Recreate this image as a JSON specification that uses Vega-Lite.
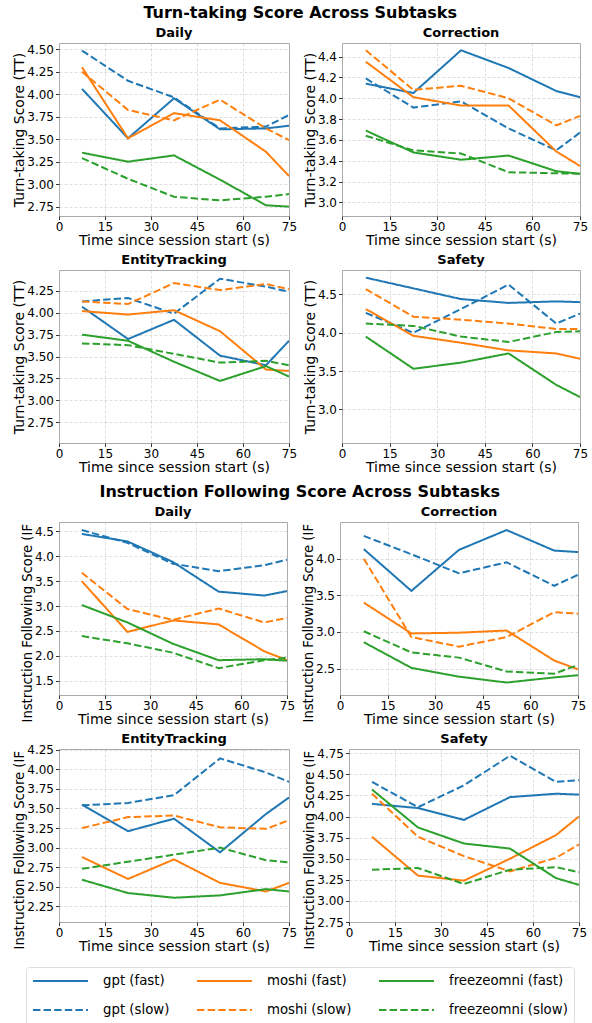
{
"$schema": "https://vega.github.io/schema/vega-lite/v6.json",
"background": "white",
"padding": {"left": 12, "right": 4, "top": 4, "bottom": 0},
"data": {"values": [
{"m":"TT","k":"Daily","s":"gpt (fast)","t":7.5,"v":4.06},{"m":"TT","k":"Daily","s":"gpt (fast)","t":22.5,"v":3.51},{"m":"TT","k":"Daily","s":"gpt (fast)","t":37.5,"v":3.955},{"m":"TT","k":"Daily","s":"gpt (fast)","t":52.5,"v":3.61},{"m":"TT","k":"Daily","s":"gpt (fast)","t":67.5,"v":3.62},{"m":"TT","k":"Daily","s":"gpt (fast)","t":75,"v":3.65},
{"m":"TT","k":"Daily","s":"gpt (slow)","t":7.5,"v":4.485},{"m":"TT","k":"Daily","s":"gpt (slow)","t":22.5,"v":4.15},{"m":"TT","k":"Daily","s":"gpt (slow)","t":37.5,"v":3.965},{"m":"TT","k":"Daily","s":"gpt (slow)","t":52.5,"v":3.62},{"m":"TT","k":"Daily","s":"gpt (slow)","t":67.5,"v":3.64},{"m":"TT","k":"Daily","s":"gpt (slow)","t":75,"v":3.77},
{"m":"TT","k":"Daily","s":"moshi (fast)","t":7.5,"v":4.30},{"m":"TT","k":"Daily","s":"moshi (fast)","t":22.5,"v":3.51},{"m":"TT","k":"Daily","s":"moshi (fast)","t":37.5,"v":3.79},{"m":"TT","k":"Daily","s":"moshi (fast)","t":52.5,"v":3.71},{"m":"TT","k":"Daily","s":"moshi (fast)","t":67.5,"v":3.36},{"m":"TT","k":"Daily","s":"moshi (fast)","t":75,"v":3.09},
{"m":"TT","k":"Daily","s":"moshi (slow)","t":7.5,"v":4.25},{"m":"TT","k":"Daily","s":"moshi (slow)","t":22.5,"v":3.825},{"m":"TT","k":"Daily","s":"moshi (slow)","t":37.5,"v":3.71},{"m":"TT","k":"Daily","s":"moshi (slow)","t":52.5,"v":3.94},{"m":"TT","k":"Daily","s":"moshi (slow)","t":67.5,"v":3.62},{"m":"TT","k":"Daily","s":"moshi (slow)","t":75,"v":3.49},
{"m":"TT","k":"Daily","s":"freezeomni (fast)","t":7.5,"v":3.35},{"m":"TT","k":"Daily","s":"freezeomni (fast)","t":22.5,"v":3.25},{"m":"TT","k":"Daily","s":"freezeomni (fast)","t":37.5,"v":3.32},{"m":"TT","k":"Daily","s":"freezeomni (fast)","t":52.5,"v":3.05},{"m":"TT","k":"Daily","s":"freezeomni (fast)","t":67.5,"v":2.765},{"m":"TT","k":"Daily","s":"freezeomni (fast)","t":75,"v":2.75},
{"m":"TT","k":"Daily","s":"freezeomni (slow)","t":7.5,"v":3.29},{"m":"TT","k":"Daily","s":"freezeomni (slow)","t":22.5,"v":3.06},{"m":"TT","k":"Daily","s":"freezeomni (slow)","t":37.5,"v":2.86},{"m":"TT","k":"Daily","s":"freezeomni (slow)","t":52.5,"v":2.82},{"m":"TT","k":"Daily","s":"freezeomni (slow)","t":67.5,"v":2.86},{"m":"TT","k":"Daily","s":"freezeomni (slow)","t":75,"v":2.89},
{"m":"TT","k":"Correction","s":"gpt (fast)","t":7.5,"v":4.14},{"m":"TT","k":"Correction","s":"gpt (fast)","t":22.5,"v":4.05},{"m":"TT","k":"Correction","s":"gpt (fast)","t":37.5,"v":4.46},{"m":"TT","k":"Correction","s":"gpt (fast)","t":52.5,"v":4.29},{"m":"TT","k":"Correction","s":"gpt (fast)","t":67.5,"v":4.07},{"m":"TT","k":"Correction","s":"gpt (fast)","t":75,"v":4.01},
{"m":"TT","k":"Correction","s":"gpt (slow)","t":7.5,"v":4.19},{"m":"TT","k":"Correction","s":"gpt (slow)","t":22.5,"v":3.91},{"m":"TT","k":"Correction","s":"gpt (slow)","t":37.5,"v":3.97},{"m":"TT","k":"Correction","s":"gpt (slow)","t":52.5,"v":3.71},{"m":"TT","k":"Correction","s":"gpt (slow)","t":67.5,"v":3.50},{"m":"TT","k":"Correction","s":"gpt (slow)","t":75,"v":3.67},
{"m":"TT","k":"Correction","s":"moshi (fast)","t":7.5,"v":4.35},{"m":"TT","k":"Correction","s":"moshi (fast)","t":22.5,"v":4.01},{"m":"TT","k":"Correction","s":"moshi (fast)","t":37.5,"v":3.93},{"m":"TT","k":"Correction","s":"moshi (fast)","t":52.5,"v":3.93},{"m":"TT","k":"Correction","s":"moshi (fast)","t":67.5,"v":3.49},{"m":"TT","k":"Correction","s":"moshi (fast)","t":75,"v":3.35},
{"m":"TT","k":"Correction","s":"moshi (slow)","t":7.5,"v":4.46},{"m":"TT","k":"Correction","s":"moshi (slow)","t":22.5,"v":4.08},{"m":"TT","k":"Correction","s":"moshi (slow)","t":37.5,"v":4.12},{"m":"TT","k":"Correction","s":"moshi (slow)","t":52.5,"v":4.00},{"m":"TT","k":"Correction","s":"moshi (slow)","t":67.5,"v":3.74},{"m":"TT","k":"Correction","s":"moshi (slow)","t":75,"v":3.83},
{"m":"TT","k":"Correction","s":"freezeomni (fast)","t":7.5,"v":3.69},{"m":"TT","k":"Correction","s":"freezeomni (fast)","t":22.5,"v":3.48},{"m":"TT","k":"Correction","s":"freezeomni (fast)","t":37.5,"v":3.41},{"m":"TT","k":"Correction","s":"freezeomni (fast)","t":52.5,"v":3.45},{"m":"TT","k":"Correction","s":"freezeomni (fast)","t":67.5,"v":3.30},{"m":"TT","k":"Correction","s":"freezeomni (fast)","t":75,"v":3.275},
{"m":"TT","k":"Correction","s":"freezeomni (slow)","t":7.5,"v":3.64},{"m":"TT","k":"Correction","s":"freezeomni (slow)","t":22.5,"v":3.50},{"m":"TT","k":"Correction","s":"freezeomni (slow)","t":37.5,"v":3.47},{"m":"TT","k":"Correction","s":"freezeomni (slow)","t":52.5,"v":3.29},{"m":"TT","k":"Correction","s":"freezeomni (slow)","t":67.5,"v":3.28},{"m":"TT","k":"Correction","s":"freezeomni (slow)","t":75,"v":3.275},
{"m":"TT","k":"EntityTracking","s":"gpt (fast)","t":7.5,"v":4.07},{"m":"TT","k":"EntityTracking","s":"gpt (fast)","t":22.5,"v":3.70},{"m":"TT","k":"EntityTracking","s":"gpt (fast)","t":37.5,"v":3.92},{"m":"TT","k":"EntityTracking","s":"gpt (fast)","t":52.5,"v":3.51},{"m":"TT","k":"EntityTracking","s":"gpt (fast)","t":67.5,"v":3.40},{"m":"TT","k":"EntityTracking","s":"gpt (fast)","t":75,"v":3.68},
{"m":"TT","k":"EntityTracking","s":"gpt (slow)","t":7.5,"v":4.13},{"m":"TT","k":"EntityTracking","s":"gpt (slow)","t":22.5,"v":4.17},{"m":"TT","k":"EntityTracking","s":"gpt (slow)","t":37.5,"v":3.99},{"m":"TT","k":"EntityTracking","s":"gpt (slow)","t":52.5,"v":4.39},{"m":"TT","k":"EntityTracking","s":"gpt (slow)","t":67.5,"v":4.30},{"m":"TT","k":"EntityTracking","s":"gpt (slow)","t":75,"v":4.24},
{"m":"TT","k":"EntityTracking","s":"moshi (fast)","t":7.5,"v":4.02},{"m":"TT","k":"EntityTracking","s":"moshi (fast)","t":22.5,"v":3.98},{"m":"TT","k":"EntityTracking","s":"moshi (fast)","t":37.5,"v":4.03},{"m":"TT","k":"EntityTracking","s":"moshi (fast)","t":52.5,"v":3.79},{"m":"TT","k":"EntityTracking","s":"moshi (fast)","t":67.5,"v":3.35},{"m":"TT","k":"EntityTracking","s":"moshi (fast)","t":75,"v":3.335},
{"m":"TT","k":"EntityTracking","s":"moshi (slow)","t":7.5,"v":4.13},{"m":"TT","k":"EntityTracking","s":"moshi (slow)","t":22.5,"v":4.10},{"m":"TT","k":"EntityTracking","s":"moshi (slow)","t":37.5,"v":4.34},{"m":"TT","k":"EntityTracking","s":"moshi (slow)","t":52.5,"v":4.26},{"m":"TT","k":"EntityTracking","s":"moshi (slow)","t":67.5,"v":4.33},{"m":"TT","k":"EntityTracking","s":"moshi (slow)","t":75,"v":4.27},
{"m":"TT","k":"EntityTracking","s":"freezeomni (fast)","t":7.5,"v":3.75},{"m":"TT","k":"EntityTracking","s":"freezeomni (fast)","t":22.5,"v":3.68},{"m":"TT","k":"EntityTracking","s":"freezeomni (fast)","t":37.5,"v":3.44},{"m":"TT","k":"EntityTracking","s":"freezeomni (fast)","t":52.5,"v":3.22},{"m":"TT","k":"EntityTracking","s":"freezeomni (fast)","t":67.5,"v":3.39},{"m":"TT","k":"EntityTracking","s":"freezeomni (fast)","t":75,"v":3.27},
{"m":"TT","k":"EntityTracking","s":"freezeomni (slow)","t":7.5,"v":3.65},{"m":"TT","k":"EntityTracking","s":"freezeomni (slow)","t":22.5,"v":3.63},{"m":"TT","k":"EntityTracking","s":"freezeomni (slow)","t":37.5,"v":3.53},{"m":"TT","k":"EntityTracking","s":"freezeomni (slow)","t":52.5,"v":3.43},{"m":"TT","k":"EntityTracking","s":"freezeomni (slow)","t":67.5,"v":3.45},{"m":"TT","k":"EntityTracking","s":"freezeomni (slow)","t":75,"v":3.40},
{"m":"TT","k":"Safety","s":"gpt (fast)","t":7.5,"v":4.72},{"m":"TT","k":"Safety","s":"gpt (fast)","t":22.5,"v":4.58},{"m":"TT","k":"Safety","s":"gpt (fast)","t":37.5,"v":4.44},{"m":"TT","k":"Safety","s":"gpt (fast)","t":52.5,"v":4.39},{"m":"TT","k":"Safety","s":"gpt (fast)","t":67.5,"v":4.41},{"m":"TT","k":"Safety","s":"gpt (fast)","t":75,"v":4.40},
{"m":"TT","k":"Safety","s":"gpt (slow)","t":7.5,"v":4.26},{"m":"TT","k":"Safety","s":"gpt (slow)","t":22.5,"v":4.00},{"m":"TT","k":"Safety","s":"gpt (slow)","t":37.5,"v":4.31},{"m":"TT","k":"Safety","s":"gpt (slow)","t":52.5,"v":4.63},{"m":"TT","k":"Safety","s":"gpt (slow)","t":67.5,"v":4.12},{"m":"TT","k":"Safety","s":"gpt (slow)","t":75,"v":4.25},
{"m":"TT","k":"Safety","s":"moshi (fast)","t":7.5,"v":4.31},{"m":"TT","k":"Safety","s":"moshi (fast)","t":22.5,"v":3.96},{"m":"TT","k":"Safety","s":"moshi (fast)","t":37.5,"v":3.87},{"m":"TT","k":"Safety","s":"moshi (fast)","t":52.5,"v":3.77},{"m":"TT","k":"Safety","s":"moshi (fast)","t":67.5,"v":3.73},{"m":"TT","k":"Safety","s":"moshi (fast)","t":75,"v":3.66},
{"m":"TT","k":"Safety","s":"moshi (slow)","t":7.5,"v":4.57},{"m":"TT","k":"Safety","s":"moshi (slow)","t":22.5,"v":4.21},{"m":"TT","k":"Safety","s":"moshi (slow)","t":37.5,"v":4.17},{"m":"TT","k":"Safety","s":"moshi (slow)","t":52.5,"v":4.12},{"m":"TT","k":"Safety","s":"moshi (slow)","t":67.5,"v":4.05},{"m":"TT","k":"Safety","s":"moshi (slow)","t":75,"v":4.05},
{"m":"TT","k":"Safety","s":"freezeomni (fast)","t":7.5,"v":3.95},{"m":"TT","k":"Safety","s":"freezeomni (fast)","t":22.5,"v":3.53},{"m":"TT","k":"Safety","s":"freezeomni (fast)","t":37.5,"v":3.61},{"m":"TT","k":"Safety","s":"freezeomni (fast)","t":52.5,"v":3.73},{"m":"TT","k":"Safety","s":"freezeomni (fast)","t":67.5,"v":3.32},{"m":"TT","k":"Safety","s":"freezeomni (fast)","t":75,"v":3.16},
{"m":"TT","k":"Safety","s":"freezeomni (slow)","t":7.5,"v":4.12},{"m":"TT","k":"Safety","s":"freezeomni (slow)","t":22.5,"v":4.09},{"m":"TT","k":"Safety","s":"freezeomni (slow)","t":37.5,"v":3.95},{"m":"TT","k":"Safety","s":"freezeomni (slow)","t":52.5,"v":3.88},{"m":"TT","k":"Safety","s":"freezeomni (slow)","t":67.5,"v":4.01},{"m":"TT","k":"Safety","s":"freezeomni (slow)","t":75,"v":4.02},
{"m":"IF","k":"Daily","s":"gpt (fast)","t":7.5,"v":4.45},{"m":"IF","k":"Daily","s":"gpt (fast)","t":22.5,"v":4.30},{"m":"IF","k":"Daily","s":"gpt (fast)","t":37.5,"v":3.885},{"m":"IF","k":"Daily","s":"gpt (fast)","t":52.5,"v":3.29},{"m":"IF","k":"Daily","s":"gpt (fast)","t":67.5,"v":3.21},{"m":"IF","k":"Daily","s":"gpt (fast)","t":75,"v":3.30},
{"m":"IF","k":"Daily","s":"gpt (slow)","t":7.5,"v":4.53},{"m":"IF","k":"Daily","s":"gpt (slow)","t":22.5,"v":4.27},{"m":"IF","k":"Daily","s":"gpt (slow)","t":37.5,"v":3.85},{"m":"IF","k":"Daily","s":"gpt (slow)","t":52.5,"v":3.70},{"m":"IF","k":"Daily","s":"gpt (slow)","t":67.5,"v":3.82},{"m":"IF","k":"Daily","s":"gpt (slow)","t":75,"v":3.93},
{"m":"IF","k":"Daily","s":"moshi (fast)","t":7.5,"v":3.50},{"m":"IF","k":"Daily","s":"moshi (fast)","t":22.5,"v":2.48},{"m":"IF","k":"Daily","s":"moshi (fast)","t":37.5,"v":2.71},{"m":"IF","k":"Daily","s":"moshi (fast)","t":52.5,"v":2.63},{"m":"IF","k":"Daily","s":"moshi (fast)","t":67.5,"v":2.09},{"m":"IF","k":"Daily","s":"moshi (fast)","t":75,"v":1.91},
{"m":"IF","k":"Daily","s":"moshi (slow)","t":7.5,"v":3.67},{"m":"IF","k":"Daily","s":"moshi (slow)","t":22.5,"v":2.94},{"m":"IF","k":"Daily","s":"moshi (slow)","t":37.5,"v":2.72},{"m":"IF","k":"Daily","s":"moshi (slow)","t":52.5,"v":2.95},{"m":"IF","k":"Daily","s":"moshi (slow)","t":67.5,"v":2.67},{"m":"IF","k":"Daily","s":"moshi (slow)","t":75,"v":2.76},
{"m":"IF","k":"Daily","s":"freezeomni (fast)","t":7.5,"v":3.02},{"m":"IF","k":"Daily","s":"freezeomni (fast)","t":22.5,"v":2.67},{"m":"IF","k":"Daily","s":"freezeomni (fast)","t":37.5,"v":2.24},{"m":"IF","k":"Daily","s":"freezeomni (fast)","t":52.5,"v":1.91},{"m":"IF","k":"Daily","s":"freezeomni (fast)","t":67.5,"v":1.93},{"m":"IF","k":"Daily","s":"freezeomni (fast)","t":75,"v":1.90},
{"m":"IF","k":"Daily","s":"freezeomni (slow)","t":7.5,"v":2.395},{"m":"IF","k":"Daily","s":"freezeomni (slow)","t":22.5,"v":2.25},{"m":"IF","k":"Daily","s":"freezeomni (slow)","t":37.5,"v":2.06},{"m":"IF","k":"Daily","s":"freezeomni (slow)","t":52.5,"v":1.75},{"m":"IF","k":"Daily","s":"freezeomni (slow)","t":67.5,"v":1.91},{"m":"IF","k":"Daily","s":"freezeomni (slow)","t":75,"v":1.96},
{"m":"IF","k":"Correction","s":"gpt (fast)","t":7.5,"v":4.13},{"m":"IF","k":"Correction","s":"gpt (fast)","t":22.5,"v":3.56},{"m":"IF","k":"Correction","s":"gpt (fast)","t":37.5,"v":4.12},{"m":"IF","k":"Correction","s":"gpt (fast)","t":52.5,"v":4.39},{"m":"IF","k":"Correction","s":"gpt (fast)","t":67.5,"v":4.11},{"m":"IF","k":"Correction","s":"gpt (fast)","t":75,"v":4.09},
{"m":"IF","k":"Correction","s":"gpt (slow)","t":7.5,"v":4.31},{"m":"IF","k":"Correction","s":"gpt (slow)","t":22.5,"v":4.06},{"m":"IF","k":"Correction","s":"gpt (slow)","t":37.5,"v":3.80},{"m":"IF","k":"Correction","s":"gpt (slow)","t":52.5,"v":3.95},{"m":"IF","k":"Correction","s":"gpt (slow)","t":67.5,"v":3.63},{"m":"IF","k":"Correction","s":"gpt (slow)","t":75,"v":3.78},
{"m":"IF","k":"Correction","s":"moshi (fast)","t":7.5,"v":3.40},{"m":"IF","k":"Correction","s":"moshi (fast)","t":22.5,"v":2.98},{"m":"IF","k":"Correction","s":"moshi (fast)","t":37.5,"v":2.99},{"m":"IF","k":"Correction","s":"moshi (fast)","t":52.5,"v":3.02},{"m":"IF","k":"Correction","s":"moshi (fast)","t":67.5,"v":2.61},{"m":"IF","k":"Correction","s":"moshi (fast)","t":75,"v":2.49},
{"m":"IF","k":"Correction","s":"moshi (slow)","t":7.5,"v":4.00},{"m":"IF","k":"Correction","s":"moshi (slow)","t":22.5,"v":2.93},{"m":"IF","k":"Correction","s":"moshi (slow)","t":37.5,"v":2.80},{"m":"IF","k":"Correction","s":"moshi (slow)","t":52.5,"v":2.93},{"m":"IF","k":"Correction","s":"moshi (slow)","t":67.5,"v":3.27},{"m":"IF","k":"Correction","s":"moshi (slow)","t":75,"v":3.25},
{"m":"IF","k":"Correction","s":"freezeomni (fast)","t":7.5,"v":2.86},{"m":"IF","k":"Correction","s":"freezeomni (fast)","t":22.5,"v":2.51},{"m":"IF","k":"Correction","s":"freezeomni (fast)","t":37.5,"v":2.39},{"m":"IF","k":"Correction","s":"freezeomni (fast)","t":52.5,"v":2.31},{"m":"IF","k":"Correction","s":"freezeomni (fast)","t":67.5,"v":2.38},{"m":"IF","k":"Correction","s":"freezeomni (fast)","t":75,"v":2.41},
{"m":"IF","k":"Correction","s":"freezeomni (slow)","t":7.5,"v":3.01},{"m":"IF","k":"Correction","s":"freezeomni (slow)","t":22.5,"v":2.72},{"m":"IF","k":"Correction","s":"freezeomni (slow)","t":37.5,"v":2.65},{"m":"IF","k":"Correction","s":"freezeomni (slow)","t":52.5,"v":2.46},{"m":"IF","k":"Correction","s":"freezeomni (slow)","t":67.5,"v":2.43},{"m":"IF","k":"Correction","s":"freezeomni (slow)","t":75,"v":2.55},
{"m":"IF","k":"EntityTracking","s":"gpt (fast)","t":7.5,"v":3.55},{"m":"IF","k":"EntityTracking","s":"gpt (fast)","t":22.5,"v":3.21},{"m":"IF","k":"EntityTracking","s":"gpt (fast)","t":37.5,"v":3.37},{"m":"IF","k":"EntityTracking","s":"gpt (fast)","t":52.5,"v":2.94},{"m":"IF","k":"EntityTracking","s":"gpt (fast)","t":67.5,"v":3.43},{"m":"IF","k":"EntityTracking","s":"gpt (fast)","t":75,"v":3.64},
{"m":"IF","k":"EntityTracking","s":"gpt (slow)","t":7.5,"v":3.54},{"m":"IF","k":"EntityTracking","s":"gpt (slow)","t":22.5,"v":3.57},{"m":"IF","k":"EntityTracking","s":"gpt (slow)","t":37.5,"v":3.67},{"m":"IF","k":"EntityTracking","s":"gpt (slow)","t":52.5,"v":4.14},{"m":"IF","k":"EntityTracking","s":"gpt (slow)","t":67.5,"v":3.96},{"m":"IF","k":"EntityTracking","s":"gpt (slow)","t":75,"v":3.84},
{"m":"IF","k":"EntityTracking","s":"moshi (fast)","t":7.5,"v":2.88},{"m":"IF","k":"EntityTracking","s":"moshi (fast)","t":22.5,"v":2.60},{"m":"IF","k":"EntityTracking","s":"moshi (fast)","t":37.5,"v":2.85},{"m":"IF","k":"EntityTracking","s":"moshi (fast)","t":52.5,"v":2.55},{"m":"IF","k":"EntityTracking","s":"moshi (fast)","t":67.5,"v":2.44},{"m":"IF","k":"EntityTracking","s":"moshi (fast)","t":75,"v":2.55},
{"m":"IF","k":"EntityTracking","s":"moshi (slow)","t":7.5,"v":3.25},{"m":"IF","k":"EntityTracking","s":"moshi (slow)","t":22.5,"v":3.39},{"m":"IF","k":"EntityTracking","s":"moshi (slow)","t":37.5,"v":3.41},{"m":"IF","k":"EntityTracking","s":"moshi (slow)","t":52.5,"v":3.26},{"m":"IF","k":"EntityTracking","s":"moshi (slow)","t":67.5,"v":3.24},{"m":"IF","k":"EntityTracking","s":"moshi (slow)","t":75,"v":3.35},
{"m":"IF","k":"EntityTracking","s":"freezeomni (fast)","t":7.5,"v":2.59},{"m":"IF","k":"EntityTracking","s":"freezeomni (fast)","t":22.5,"v":2.42},{"m":"IF","k":"EntityTracking","s":"freezeomni (fast)","t":37.5,"v":2.36},{"m":"IF","k":"EntityTracking","s":"freezeomni (fast)","t":52.5,"v":2.39},{"m":"IF","k":"EntityTracking","s":"freezeomni (fast)","t":67.5,"v":2.47},{"m":"IF","k":"EntityTracking","s":"freezeomni (fast)","t":75,"v":2.44},
{"m":"IF","k":"EntityTracking","s":"freezeomni (slow)","t":7.5,"v":2.73},{"m":"IF","k":"EntityTracking","s":"freezeomni (slow)","t":22.5,"v":2.82},{"m":"IF","k":"EntityTracking","s":"freezeomni (slow)","t":37.5,"v":2.91},{"m":"IF","k":"EntityTracking","s":"freezeomni (slow)","t":52.5,"v":3.00},{"m":"IF","k":"EntityTracking","s":"freezeomni (slow)","t":67.5,"v":2.84},{"m":"IF","k":"EntityTracking","s":"freezeomni (slow)","t":75,"v":2.81},
{"m":"IF","k":"Safety","s":"gpt (fast)","t":7.5,"v":4.15},{"m":"IF","k":"Safety","s":"gpt (fast)","t":22.5,"v":4.10},{"m":"IF","k":"Safety","s":"gpt (fast)","t":37.5,"v":3.96},{"m":"IF","k":"Safety","s":"gpt (fast)","t":52.5,"v":4.23},{"m":"IF","k":"Safety","s":"gpt (fast)","t":67.5,"v":4.27},{"m":"IF","k":"Safety","s":"gpt (fast)","t":75,"v":4.26},
{"m":"IF","k":"Safety","s":"gpt (slow)","t":7.5,"v":4.41},{"m":"IF","k":"Safety","s":"gpt (slow)","t":22.5,"v":4.11},{"m":"IF","k":"Safety","s":"gpt (slow)","t":37.5,"v":4.37},{"m":"IF","k":"Safety","s":"gpt (slow)","t":52.5,"v":4.72},{"m":"IF","k":"Safety","s":"gpt (slow)","t":67.5,"v":4.41},{"m":"IF","k":"Safety","s":"gpt (slow)","t":75,"v":4.43},
{"m":"IF","k":"Safety","s":"moshi (fast)","t":7.5,"v":3.76},{"m":"IF","k":"Safety","s":"moshi (fast)","t":22.5,"v":3.30},{"m":"IF","k":"Safety","s":"moshi (fast)","t":37.5,"v":3.24},{"m":"IF","k":"Safety","s":"moshi (fast)","t":52.5,"v":3.50},{"m":"IF","k":"Safety","s":"moshi (fast)","t":67.5,"v":3.78},{"m":"IF","k":"Safety","s":"moshi (fast)","t":75,"v":4.00},
{"m":"IF","k":"Safety","s":"moshi (slow)","t":7.5,"v":4.27},{"m":"IF","k":"Safety","s":"moshi (slow)","t":22.5,"v":3.76},{"m":"IF","k":"Safety","s":"moshi (slow)","t":37.5,"v":3.53},{"m":"IF","k":"Safety","s":"moshi (slow)","t":52.5,"v":3.35},{"m":"IF","k":"Safety","s":"moshi (slow)","t":67.5,"v":3.51},{"m":"IF","k":"Safety","s":"moshi (slow)","t":75,"v":3.67},
{"m":"IF","k":"Safety","s":"freezeomni (fast)","t":7.5,"v":4.32},{"m":"IF","k":"Safety","s":"freezeomni (fast)","t":22.5,"v":3.87},{"m":"IF","k":"Safety","s":"freezeomni (fast)","t":37.5,"v":3.68},{"m":"IF","k":"Safety","s":"freezeomni (fast)","t":52.5,"v":3.62},{"m":"IF","k":"Safety","s":"freezeomni (fast)","t":67.5,"v":3.27},{"m":"IF","k":"Safety","s":"freezeomni (fast)","t":75,"v":3.19},
{"m":"IF","k":"Safety","s":"freezeomni (slow)","t":7.5,"v":3.37},{"m":"IF","k":"Safety","s":"freezeomni (slow)","t":22.5,"v":3.39},{"m":"IF","k":"Safety","s":"freezeomni (slow)","t":37.5,"v":3.20},{"m":"IF","k":"Safety","s":"freezeomni (slow)","t":52.5,"v":3.37},{"m":"IF","k":"Safety","s":"freezeomni (slow)","t":67.5,"v":3.40},{"m":"IF","k":"Safety","s":"freezeomni (slow)","t":75,"v":3.34}
]},
"spacing": 8,
"vconcat": [
{"title": {"text": "Turn-taking Score Across Subtasks", "fontSize": 16, "anchor": "middle", "offset": 6},
 "spacing": 5,
 "vconcat": [
  {"spacing": 4, "hconcat": [
   {"title": {"text": "Daily"}, "width": 230, "height": 173,
    "transform": [{"filter": "datum.m === 'TT' && datum.k === 'Daily'"}],
    "mark": {"type": "line", "strokeWidth": 2, "clip": true},
    "encoding": {
     "x": {"field": "t", "type": "quantitative", "scale": {"domain": [0, 75], "nice": false}, "axis": {"values": [0, 15, 30, 45, 60, 75], "title": "Time since session start (s)"}},
     "y": {"field": "v", "type": "quantitative", "scale": {"domain": [2.646, 4.57], "nice": false, "zero": false}, "axis": {"values": [2.75, 3, 3.25, 3.5, 3.75, 4, 4.25, 4.5], "format": ".2f", "title": "Turn-taking Score (TT)"}},
     "color": {"field": "s", "type": "nominal", "scale": {"domain": ["gpt (fast)", "gpt (slow)", "moshi (fast)", "moshi (slow)", "freezeomni (fast)", "freezeomni (slow)"], "range": ["#1f77b4", "#1f77b4", "#ff7f0e", "#ff7f0e", "#2ca02c", "#2ca02c"]}, "legend": {"title": null}},
     "strokeDash": {"field": "s", "type": "nominal", "scale": {"domain": ["gpt (fast)", "gpt (slow)", "moshi (fast)", "moshi (slow)", "freezeomni (fast)", "freezeomni (slow)"], "range": [[1, 0], [7.4, 3.2], [1, 0], [7.4, 3.2], [1, 0], [7.4, 3.2]]}, "legend": {"title": null}}
    }},
   {"title": {"text": "Correction"}, "width": 238, "height": 173,
    "transform": [{"filter": "datum.m === 'TT' && datum.k === 'Correction'"}],
    "mark": {"type": "line", "strokeWidth": 2, "clip": true},
    "encoding": {
     "x": {"field": "t", "type": "quantitative", "scale": {"domain": [0, 75], "nice": false}, "axis": {"values": [0, 15, 30, 45, 60, 75], "title": "Time since session start (s)"}},
     "y": {"field": "v", "type": "quantitative", "scale": {"domain": [2.87, 4.53], "nice": false, "zero": false}, "axis": {"values": [3, 3.2, 3.4, 3.6, 3.8, 4, 4.2, 4.4], "format": ".1f", "title": "Turn-taking Score (TT)"}},
     "color": {"field": "s", "type": "nominal", "scale": {"domain": ["gpt (fast)", "gpt (slow)", "moshi (fast)", "moshi (slow)", "freezeomni (fast)", "freezeomni (slow)"], "range": ["#1f77b4", "#1f77b4", "#ff7f0e", "#ff7f0e", "#2ca02c", "#2ca02c"]}, "legend": {"title": null}},
     "strokeDash": {"field": "s", "type": "nominal", "scale": {"domain": ["gpt (fast)", "gpt (slow)", "moshi (fast)", "moshi (slow)", "freezeomni (fast)", "freezeomni (slow)"], "range": [[1, 0], [7.4, 3.2], [1, 0], [7.4, 3.2], [1, 0], [7.4, 3.2]]}, "legend": {"title": null}}
    }}
  ]},
  {"spacing": 4, "hconcat": [
   {"title": {"text": "EntityTracking"}, "width": 230, "height": 173,
    "transform": [{"filter": "datum.m === 'TT' && datum.k === 'EntityTracking'"}],
    "mark": {"type": "line", "strokeWidth": 2, "clip": true},
    "encoding": {
     "x": {"field": "t", "type": "quantitative", "scale": {"domain": [0, 75], "nice": false}, "axis": {"values": [0, 15, 30, 45, 60, 75], "title": "Time since session start (s)"}},
     "y": {"field": "v", "type": "quantitative", "scale": {"domain": [2.51, 4.49], "nice": false, "zero": false}, "axis": {"values": [2.75, 3, 3.25, 3.5, 3.75, 4, 4.25], "format": ".2f", "title": "Turn-taking Score (TT)"}},
     "color": {"field": "s", "type": "nominal", "scale": {"domain": ["gpt (fast)", "gpt (slow)", "moshi (fast)", "moshi (slow)", "freezeomni (fast)", "freezeomni (slow)"], "range": ["#1f77b4", "#1f77b4", "#ff7f0e", "#ff7f0e", "#2ca02c", "#2ca02c"]}, "legend": {"title": null}},
     "strokeDash": {"field": "s", "type": "nominal", "scale": {"domain": ["gpt (fast)", "gpt (slow)", "moshi (fast)", "moshi (slow)", "freezeomni (fast)", "freezeomni (slow)"], "range": [[1, 0], [7.4, 3.2], [1, 0], [7.4, 3.2], [1, 0], [7.4, 3.2]]}, "legend": {"title": null}}
    }},
   {"title": {"text": "Safety"}, "width": 238, "height": 173,
    "transform": [{"filter": "datum.m === 'TT' && datum.k === 'Safety'"}],
    "mark": {"type": "line", "strokeWidth": 2, "clip": true},
    "encoding": {
     "x": {"field": "t", "type": "quantitative", "scale": {"domain": [0, 75], "nice": false}, "axis": {"values": [0, 15, 30, 45, 60, 75], "title": "Time since session start (s)"}},
     "y": {"field": "v", "type": "quantitative", "scale": {"domain": [2.56, 4.82], "nice": false, "zero": false}, "axis": {"values": [3, 3.5, 4, 4.5], "format": ".1f", "title": "Turn-taking Score (TT)"}},
     "color": {"field": "s", "type": "nominal", "scale": {"domain": ["gpt (fast)", "gpt (slow)", "moshi (fast)", "moshi (slow)", "freezeomni (fast)", "freezeomni (slow)"], "range": ["#1f77b4", "#1f77b4", "#ff7f0e", "#ff7f0e", "#2ca02c", "#2ca02c"]}, "legend": {"title": null}},
     "strokeDash": {"field": "s", "type": "nominal", "scale": {"domain": ["gpt (fast)", "gpt (slow)", "moshi (fast)", "moshi (slow)", "freezeomni (fast)", "freezeomni (slow)"], "range": [[1, 0], [7.4, 3.2], [1, 0], [7.4, 3.2], [1, 0], [7.4, 3.2]]}, "legend": {"title": null}}
    }}
  ]}
 ]},
{"title": {"text": "Instruction Following Score Across Subtasks", "fontSize": 16, "anchor": "middle", "offset": 6},
 "spacing": 5,
 "vconcat": [
  {"spacing": 4, "hconcat": [
   {"title": {"text": "Daily"}, "width": 228, "height": 173,
    "transform": [{"filter": "datum.m === 'IF' && datum.k === 'Daily'"}],
    "mark": {"type": "line", "strokeWidth": 2, "clip": true},
    "encoding": {
     "x": {"field": "t", "type": "quantitative", "scale": {"domain": [0, 75], "nice": false}, "axis": {"values": [0, 15, 30, 45, 60, 75], "title": "Time since session start (s)"}},
     "y": {"field": "v", "type": "quantitative", "scale": {"domain": [1.21, 4.69], "nice": false, "zero": false}, "axis": {"values": [1.5, 2, 2.5, 3, 3.5, 4, 4.5], "format": ".1f", "title": "Instruction Following Score (IF", "titleFontSize": 13.2, "titleAlign": "left", "titleY": 200}},
     "color": {"field": "s", "type": "nominal", "scale": {"domain": ["gpt (fast)", "gpt (slow)", "moshi (fast)", "moshi (slow)", "freezeomni (fast)", "freezeomni (slow)"], "range": ["#1f77b4", "#1f77b4", "#ff7f0e", "#ff7f0e", "#2ca02c", "#2ca02c"]}, "legend": {"title": null}},
     "strokeDash": {"field": "s", "type": "nominal", "scale": {"domain": ["gpt (fast)", "gpt (slow)", "moshi (fast)", "moshi (slow)", "freezeomni (fast)", "freezeomni (slow)"], "range": [[1, 0], [7.4, 3.2], [1, 0], [7.4, 3.2], [1, 0], [7.4, 3.2]]}, "legend": {"title": null}}
    }},
   {"title": {"text": "Correction"}, "width": 238, "height": 173,
    "transform": [{"filter": "datum.m === 'IF' && datum.k === 'Correction'"}],
    "mark": {"type": "line", "strokeWidth": 2, "clip": true},
    "encoding": {
     "x": {"field": "t", "type": "quantitative", "scale": {"domain": [0, 75], "nice": false}, "axis": {"values": [0, 15, 30, 45, 60, 75], "title": "Time since session start (s)"}},
     "y": {"field": "v", "type": "quantitative", "scale": {"domain": [2.14, 4.5], "nice": false, "zero": false}, "axis": {"values": [2.5, 3, 3.5, 4], "format": ".1f", "title": "Instruction Following Score (IF", "titleFontSize": 13.2, "titleAlign": "left", "titleY": 200}},
     "color": {"field": "s", "type": "nominal", "scale": {"domain": ["gpt (fast)", "gpt (slow)", "moshi (fast)", "moshi (slow)", "freezeomni (fast)", "freezeomni (slow)"], "range": ["#1f77b4", "#1f77b4", "#ff7f0e", "#ff7f0e", "#2ca02c", "#2ca02c"]}, "legend": {"title": null}},
     "strokeDash": {"field": "s", "type": "nominal", "scale": {"domain": ["gpt (fast)", "gpt (slow)", "moshi (fast)", "moshi (slow)", "freezeomni (fast)", "freezeomni (slow)"], "range": [[1, 0], [7.4, 3.2], [1, 0], [7.4, 3.2], [1, 0], [7.4, 3.2]]}, "legend": {"title": null}}
    }}
  ]},
  {"spacing": 4, "hconcat": [
   {"title": {"text": "EntityTracking", "offset": -2}, "width": 230, "height": 173,
    "transform": [{"filter": "datum.m === 'IF' && datum.k === 'EntityTracking'"}],
    "mark": {"type": "line", "strokeWidth": 2, "clip": true},
    "encoding": {
     "x": {"field": "t", "type": "quantitative", "scale": {"domain": [0, 75], "nice": false}, "axis": {"values": [0, 15, 30, 45, 60, 75], "title": "Time since session start (s)"}},
     "y": {"field": "v", "type": "quantitative", "scale": {"domain": [2.05, 4.26], "nice": false, "zero": false}, "axis": {"values": [2.25, 2.5, 2.75, 3, 3.25, 3.5, 3.75, 4, 4.25], "format": ".2f", "title": "Instruction Following Score (IF", "titleFontSize": 13.2, "titleAlign": "left", "titleY": 200}},
     "color": {"field": "s", "type": "nominal", "scale": {"domain": ["gpt (fast)", "gpt (slow)", "moshi (fast)", "moshi (slow)", "freezeomni (fast)", "freezeomni (slow)"], "range": ["#1f77b4", "#1f77b4", "#ff7f0e", "#ff7f0e", "#2ca02c", "#2ca02c"]}, "legend": {"title": null}},
     "strokeDash": {"field": "s", "type": "nominal", "scale": {"domain": ["gpt (fast)", "gpt (slow)", "moshi (fast)", "moshi (slow)", "freezeomni (fast)", "freezeomni (slow)"], "range": [[1, 0], [7.4, 3.2], [1, 0], [7.4, 3.2], [1, 0], [7.4, 3.2]]}, "legend": {"title": null}}
    }},
   {"title": {"text": "Safety", "offset": 1}, "width": 230, "height": 173,
    "transform": [{"filter": "datum.m === 'IF' && datum.k === 'Safety'"}],
    "mark": {"type": "line", "strokeWidth": 2, "clip": true},
    "encoding": {
     "x": {"field": "t", "type": "quantitative", "scale": {"domain": [0, 75], "nice": false}, "axis": {"values": [0, 15, 30, 45, 60, 75], "title": "Time since session start (s)"}},
     "y": {"field": "v", "type": "quantitative", "scale": {"domain": [2.75, 4.8], "nice": false, "zero": false}, "axis": {"values": [2.75, 3, 3.25, 3.5, 3.75, 4, 4.25, 4.5, 4.75], "format": ".2f", "title": "Instruction Following Score (IF", "titleFontSize": 13.2, "titleAlign": "left", "titleY": 200}},
     "color": {"field": "s", "type": "nominal", "scale": {"domain": ["gpt (fast)", "gpt (slow)", "moshi (fast)", "moshi (slow)", "freezeomni (fast)", "freezeomni (slow)"], "range": ["#1f77b4", "#1f77b4", "#ff7f0e", "#ff7f0e", "#2ca02c", "#2ca02c"]}, "legend": {"title": null}},
     "strokeDash": {"field": "s", "type": "nominal", "scale": {"domain": ["gpt (fast)", "gpt (slow)", "moshi (fast)", "moshi (slow)", "freezeomni (fast)", "freezeomni (slow)"], "range": [[1, 0], [7.4, 3.2], [1, 0], [7.4, 3.2], [1, 0], [7.4, 3.2]]}, "legend": {"title": null}}
    }}
  ]}
 ]}
],
"config": {
 "font": "DejaVu Sans",
 "view": {"stroke": "#aaaaaa", "strokeWidth": 1},
 "axis": {"labelFontSize": 12, "titleFontSize": 14, "titleFontWeight": "normal", "labelColor": "#000000", "titleColor": "#000000", "grid": true, "gridColor": "#b0b0b0", "gridOpacity": 0.5, "gridDash": [3, 2], "gridWidth": 0.8, "domain": false, "tickColor": "#333333", "tickSize": 3.5, "labelPadding": 2, "titlePadding": 3, "labelFlush": false, "labelOverlap": false},
 "axisX": {"titlePadding": 1},
 "axisY": {"titlePadding": 0},
 "title": {"fontSize": 13, "fontWeight": "bold", "offset": 3, "color": "#000000"},
 "legend": {"orient": "none", "legendX": -33, "legendY": 924, "columns": 3, "symbolType": "stroke", "symbolSize": 3025, "clipHeight": 16, "symbolStrokeWidth": 2, "labelFontSize": 13.3, "labelColor": "#000000", "labelOffset": 14, "columnPadding": 26, "rowPadding": 13, "padding": 6, "strokeColor": "#dddddd", "cornerRadius": 3, "labelLimit": 200}
}
}
